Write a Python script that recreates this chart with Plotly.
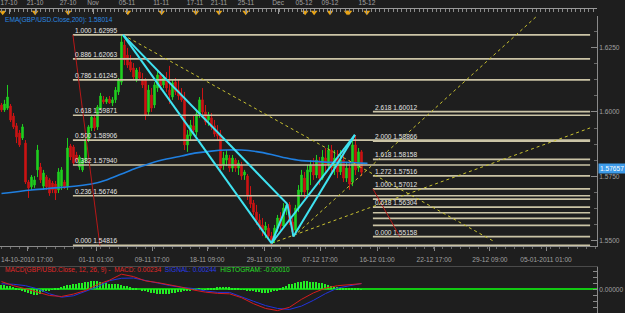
import plotly.graph_objects as go

# ---------------- DATA ----------------
bars = list(range(121))

opens = [
    1.6027, 1.6008, 1.6015, 1.6023, 1.5984, 1.5946, 1.5918, 1.5899, 1.5879, 1.5728,
    1.5709, 1.5716, 1.5775, 1.5786, 1.5712, 1.5747, 1.5736, 1.5724, 1.5720, 1.5697,
    1.5712, 1.5728, 1.5709, 1.5868, 1.5864, 1.5833, 1.5786, 1.5775, 1.5813, 1.5891,
    1.5938, 1.5977, 1.5942, 1.6015, 1.6047, 1.6039, 1.6050, 1.6035, 1.6047, 1.6078,
    1.6116, 1.6260, 1.6221, 1.6194, 1.6171, 1.6124, 1.6155, 1.6124, 1.6124, 1.6000,
    1.6066, 1.6027, 1.6093, 1.6144, 1.6105, 1.6124, 1.6085, 1.6058, 1.6116, 1.6085,
    1.6066, 1.6047, 1.5872, 1.5907, 1.5946, 1.5922, 1.5992, 1.6047, 1.6000, 1.5969,
    1.5977, 1.5946, 1.5918, 1.5911, 1.5794, 1.5813, 1.5821, 1.5782, 1.5813, 1.5782,
    1.5794, 1.5755, 1.5751, 1.5677, 1.5646, 1.5611, 1.5580, 1.5561, 1.5541, 1.5549,
    1.5518, 1.5503, 1.5549, 1.5588, 1.5557, 1.5627, 1.5639, 1.5573, 1.5541, 1.5627,
    1.5689, 1.5743, 1.5697, 1.5767, 1.5794, 1.5755, 1.5806, 1.5743, 1.5821, 1.5794,
    1.5852, 1.5782, 1.5821, 1.5767, 1.5813, 1.5743, 1.5782, 1.5728, 1.5872, 1.5782,
    1.5845]
highs = [
    1.6035, 1.6047, 1.6105, 1.6031, 1.5996, 1.5957, 1.5930, 1.5953, 1.5891, 1.5736,
    1.5755, 1.5751, 1.5872, 1.5802, 1.5775, 1.5755, 1.5743, 1.5732, 1.5732, 1.5782,
    1.5786, 1.5736, 1.5899, 1.5876, 1.5872, 1.5845, 1.5833, 1.5821, 1.5899, 1.5949,
    1.5988, 1.5988, 1.6027, 1.6074, 1.6062, 1.6058, 1.6062, 1.6058, 1.6097, 1.6132,
    1.62995, 1.6280, 1.6249, 1.6221, 1.6190, 1.6171, 1.6175, 1.6151, 1.6132, 1.6105,
    1.6093, 1.6116, 1.6163, 1.6155, 1.6144, 1.6155, 1.6179, 1.6124, 1.6132, 1.6124,
    1.6093, 1.6078, 1.5930, 1.5969, 1.5988, 1.6008, 1.6058, 1.6093, 1.6027, 1.6000,
    1.5996, 1.5969, 1.5949, 1.5930, 1.5845, 1.5852, 1.5833, 1.5833, 1.5821, 1.5813,
    1.5806, 1.5775, 1.5759, 1.5712, 1.5658, 1.5639, 1.5604, 1.5588, 1.5573, 1.5565,
    1.5534, 1.5561, 1.5600, 1.5611, 1.5646, 1.5646, 1.5650, 1.5588, 1.5639, 1.5716,
    1.5775, 1.5767, 1.5794, 1.5813, 1.5821, 1.5833, 1.5825, 1.5852, 1.5860, 1.5872,
    1.5872, 1.5852, 1.5852, 1.5852, 1.5860, 1.5806, 1.5813, 1.5891, 1.5911, 1.5860,
    1.5852]
lows = [
    1.6000, 1.6000, 1.6008, 1.5961, 1.5934, 1.5879, 1.5864, 1.5891, 1.5720, 1.5666,
    1.5697, 1.5705, 1.5747, 1.5724, 1.5697, 1.5697, 1.5674, 1.5685, 1.5658, 1.5685,
    1.5697, 1.5701, 1.5697, 1.5813, 1.5794, 1.5806, 1.5775, 1.5767, 1.5802, 1.5883,
    1.5926, 1.5926, 1.5930, 1.6008, 1.6031, 1.6031, 1.6031, 1.6023, 1.6035, 1.6066,
    1.6105, 1.6182, 1.6171, 1.6155, 1.6124, 1.6116, 1.6124, 1.6093, 1.5969, 1.5984,
    1.6000, 1.6015, 1.6078, 1.6085, 1.6093, 1.6078, 1.6031, 1.6047, 1.6066, 1.6047,
    1.6039, 1.5852, 1.5845, 1.5891, 1.5911, 1.5907, 1.5977, 1.5977, 1.5949, 1.5946,
    1.5930, 1.5903, 1.5891, 1.5767, 1.5775, 1.5790, 1.5767, 1.5767, 1.5767, 1.5755,
    1.5736, 1.5736, 1.5658, 1.5627, 1.5600, 1.5561, 1.5541, 1.5518, 1.5510, 1.5503,
    1.54816, 1.5491, 1.5534, 1.5541, 1.5549, 1.5600, 1.5561, 1.55158, 1.5526, 1.5611,
    1.5674, 1.5666, 1.5677, 1.5716, 1.5736, 1.5743, 1.5716, 1.5736, 1.5767, 1.5782,
    1.5767, 1.5755, 1.5743, 1.5755, 1.5728, 1.5728, 1.5697, 1.5712, 1.5755, 1.5767,
    1.5751]
closes = [
    1.6008, 1.6031, 1.6058, 1.5969, 1.5942, 1.5903, 1.5872, 1.5942, 1.5728, 1.5705,
    1.5747, 1.5736, 1.5852, 1.5736, 1.5763, 1.5709, 1.5685, 1.5697, 1.5685, 1.5767,
    1.5775, 1.5705, 1.5860, 1.5825, 1.5802, 1.5813, 1.5825, 1.5813, 1.5891, 1.5942,
    1.5980, 1.5938, 1.6019, 1.6062, 1.6039, 1.6050, 1.6035, 1.6047, 1.6085, 1.6124,
    1.6272, 1.6202, 1.6182, 1.6163, 1.6136, 1.6163, 1.6132, 1.6105, 1.5988, 1.6085,
    1.6015, 1.6105, 1.6144, 1.6101, 1.6132, 1.6093, 1.6066, 1.6113, 1.6078, 1.6062,
    1.6047, 1.5872, 1.5911, 1.5949, 1.5930, 1.5992, 1.6047, 1.6000, 1.5961, 1.5988,
    1.5942, 1.5914, 1.5907, 1.5782, 1.5821, 1.5833, 1.5782, 1.5821, 1.5782, 1.5802,
    1.5751, 1.5767, 1.5674, 1.5642, 1.5611, 1.5580, 1.5557, 1.5541, 1.5557, 1.5518,
    1.5503, 1.5549, 1.5588, 1.5557, 1.5627, 1.5639, 1.5573, 1.5534, 1.5627, 1.5697,
    1.5755, 1.5689, 1.5775, 1.5794, 1.5755, 1.5813, 1.5743, 1.5825, 1.5794, 1.5852,
    1.5782, 1.5821, 1.5767, 1.5813, 1.5743, 1.5782, 1.5720, 1.5872, 1.5775, 1.5845,
    1.57657]

ema_bars = [0, 10, 20, 30, 35, 40, 45, 50, 55, 60, 65, 70, 75, 80, 85, 90, 95, 100, 105, 110, 115, 120, 122]
ema_vals = [1.5683, 1.5697, 1.5707, 1.5720, 1.5736, 1.5759, 1.5782, 1.5802, 1.5817, 1.5829, 1.5841,
            1.5848, 1.5852, 1.5852, 1.5846, 1.5835, 1.5821, 1.5811, 1.5808, 1.5804, 1.5804, 1.58014, 1.5801]

# Fibonacci retracement (left) and extension (right)
left_fib_ratios = [1.000, 0.886, 0.786, 0.618, 0.500, 0.382, 0.236, 0.000]
left_fib_prices = [1.62995, 1.62063, 1.61245, 1.59871, 1.58906, 1.57940, 1.56746, 1.54816]
left_fib_anchor = [23.8, 32.8]
right_fib_ratios = [2.618, 2.000, 1.618, 1.272, 1.000, 0.786, 0.618, 0.500, 0.382, 0.236, 0.000]
right_fib_prices = [1.60012, 1.58866, 1.58158, 1.57516, 1.57012, 1.56615, 1.56304, 1.56085, 1.55866, 1.55596, 1.55158]
right_fib_labelled = [2.618, 2.000, 1.618, 1.272, 1.000, 0.618, 0.000]
right_fib_anchor = [123.8, 132.8]
fib_end = 196.2

# harmonic pattern points X, A, B, C, D
pat_names = ["X", "A", "B", "C", "D"]
pat_bars = [40.5, 90.0, 95.3, 97.3, 117.8]
pat_prices = [1.62995, 1.5490, 1.5642, 1.5516, 1.5911]
pat_legs = [("X", "A"), ("X", "B"), ("A", "B"), ("B", "C"), ("A", "D"), ("C", "D")]

# dotted trend lines (start bar, start price, end bar, end price)
trend_x0 = [40.5, 90.0, 97.3]
trend_p0 = [1.62995, 1.5490, 1.5516]
trend_x1 = [164.5, 196.2, 178.5]
trend_p1 = [1.5495, 1.5938, 1.6373]

# MACD panel
macd_bars = [0, 4, 8, 12, 16, 20, 24, 28, 32, 36, 40, 44, 48, 52, 56, 60, 64, 68, 72, 76,
             80, 84, 88, 92, 96, 100, 104, 108, 112, 116, 120]
macd_vals = [0.0032, 0.0015, 0.0002, -0.0012, -0.0026, -0.0030, -0.0020, -0.0005, 0.0020, 0.0038,
             0.0063, 0.0053, 0.0035, 0.0028, 0.0019, 0.0009, -0.0003, -0.0012, -0.0017, -0.0019,
             -0.0035, -0.0060, -0.0080, -0.0089, -0.0075, -0.0042, -0.0015, 0.0005, 0.0015, 0.0020,
             0.00234]
signal_vals = [0.0023, 0.0021, 0.0015, 0.0002, -0.0019, -0.0033, -0.0027, -0.0010, 0.0010, 0.0036,
               0.0046, 0.0047, 0.0036, 0.0025, 0.0016, 0.0008, 0.0003, -0.0007, -0.0013, -0.0013,
               -0.0030, -0.0050, -0.0068, -0.0080, -0.0084, -0.0070, -0.0046, -0.0018, 0.0005, 0.0016,
               0.00244]
hist_vals = [
    0.0018, 0.0017, 0.0015, 0.0013, 0.0010,
    0.0005, 0.0001,
    -0.0006, -0.0012, -0.0016, -0.0020, -0.0022, -0.0022, -0.0018, -0.0012,
    -0.0007, -0.0004, -0.0002, 0.0002, 0.0006,
    0.0010, 0.0013, 0.0016, 0.0018, 0.0020, 0.0022, 0.0025, 0.0028, 0.0030, 0.0032,
    0.0034, 0.0035, 0.0033, 0.0030, 0.0028,
    0.0025, 0.0024, 0.0022, 0.0020, 0.0020, 0.0018, 0.0015, 0.0012, 0.0008, 0.0005,
    0.0003, 0.0000,
    -0.0004, -0.0008, -0.0012, -0.0015, -0.0017, -0.0018, -0.0020, -0.0020, -0.0019,
    -0.0018, -0.0016, -0.0014, -0.0012, -0.0010, -0.0008, -0.0006, -0.0004, -0.0002,
    0.0001, 0.0002, 0.0001, -0.0001, 0.0002, 0.0004,
    0.0006, 0.0008, 0.0010, 0.0011, 0.0010, 0.0008, 0.0006,
    0.0004, 0.0002, 0.0001, -0.0002, -0.0004, -0.0006, -0.0008,
    -0.0010, -0.0012, -0.0014, -0.0015, -0.0014, -0.0012, -0.0008, -0.0004,
    0.0002, 0.0008, 0.0014, 0.0020, 0.0024, 0.0028, 0.0030,
    0.0032, 0.0033, 0.0033, 0.0032, 0.0031, 0.0030, 0.0028,
    0.0025, 0.0022, 0.0018, 0.0014, 0.0010,
    0.0008, 0.0007, 0.0006, 0.0005, 0.0005, 0.0004, 0.0003, 0.0002, -0.0001]

# axis labels
bottom_tick_pos = [8.5, 31.5, 50.2, 68.5, 87.5, 106.2, 125.2, 144.2, 162.8, 181.5]
bottom_tick_text = ["14-10-2010 17:00", "01-11 01:00", "09-11 17:00", "18-11 09:00", "29-11 01:00",
                    "07-12 17:00", "16-12 01:00", "22-12 17:00", "29-12 09:00", "05-01-2011 01:00"]
top_tick_pos = [2.5, 11.2, 22.2, 30.5, 41.8, 53.2, 64.5, 72.5, 81.5, 92.2, 100.8, 109.5, 121.8]
top_tick_text = ["17-10", "21-10", "27-10", "Nov", "05-11", "11-11", "17-11", "21-11", "25-11",
                 "Dec", "05-12", "09-12", "15-12"]
event_marker_pos = [0.4, 11.2, 22.2, 42.1, 53.4, 64.8, 72.5, 81.4, 101.2, 104.2, 109.5, 115.2, 115.8, 121.8]
price_ticks = [1.5500, 1.5750, 1.6000, 1.6250]
last_price = 1.57657
ema_last = 1.58014
macd_last, signal_last, hist_last = 0.00234, 0.00244, -0.00010

# ---------------- STYLE ----------------
BG = "#1e1e1e"
AX = "#8a8a8a"
TXT = "#a0a0a0"
FONT = "Liberation Sans"
FS = 6.6
FIB = "#cbc4a6"
CYAN = "#3fe3f2"
DOT = "#c9c230"
GREEN = "#1fcf1f"
RED = "#cc1414"
X_RANGE = [-0.5, 198.5]
XDOM = [0, 1]

fig = go.Figure()


def hlines(x0, x1, levels):
    xs, ys = [], []
    for p in levels:
        xs += [x0, x1, None]
        ys += [p, p, None]
    return xs, ys


lx, ly = hlines(left_fib_anchor[0], fib_end, left_fib_prices)
fig.add_trace(go.Scatter(x=lx, y=ly, mode="lines", line=dict(color=FIB, width=1.6), hoverinfo="skip"))
rx, ry = hlines(right_fib_anchor[0], fib_end, right_fib_prices)
fig.add_trace(go.Scatter(x=rx, y=ry, mode="lines", line=dict(color=FIB, width=1.6), hoverinfo="skip"))

fig.add_trace(go.Candlestick(
    x=bars, open=opens, high=highs, low=lows, close=closes,
    increasing=dict(line=dict(color=GREEN, width=1), fillcolor=GREEN),
    decreasing=dict(line=dict(color=RED, width=1), fillcolor=RED),
    whiskerwidth=0, hoverinfo="skip"))

fig.add_trace(go.Scatter(x=ema_bars, y=ema_vals, mode="lines",
                         line=dict(color="#1f7fe0", width=1.6, shape="spline"), hoverinfo="skip"))

# fib diagonals
fig.add_trace(go.Scatter(x=left_fib_anchor, y=[left_fib_prices[0], left_fib_prices[-1]], mode="lines",
                         line=dict(color="#b81818", width=1), hoverinfo="skip"))
fig.add_trace(go.Scatter(x=right_fib_anchor, y=[right_fib_prices[4], right_fib_prices[-1]], mode="lines",
                         line=dict(color="#b81818", width=1), hoverinfo="skip"))

# dotted trend lines
tx, ty = [], []
for a, b, c, d in zip(trend_x0, trend_p0, trend_x1, trend_p1):
    tx += [a, c, None]
    ty += [b, d, None]
fig.add_trace(go.Scatter(x=tx, y=ty, mode="lines", line=dict(color=DOT, width=1, dash="dot"), hoverinfo="skip"))

# harmonic pattern
idx = {n: i for i, n in enumerate(pat_names)}
px_, py_ = [], []
for s, e in pat_legs:
    px_ += [pat_bars[idx[s]], pat_bars[idx[e]], None]
    py_ += [pat_prices[idx[s]], pat_prices[idx[e]], None]
fig.add_trace(go.Scatter(x=px_, y=py_, mode="lines", line=dict(color=CYAN, width=2), hoverinfo="skip"))

# MACD panel
fig.add_trace(go.Bar(x=bars, y=hist_vals, xaxis="x2", yaxis="y2", width=0.65,
                     marker=dict(color="#24ee24", line=dict(width=0)), hoverinfo="skip"))
fig.add_trace(go.Scatter(x=macd_bars, y=signal_vals, xaxis="x2", yaxis="y2", mode="lines",
                         line=dict(color="#2233dd", width=1), hoverinfo="skip"))
fig.add_trace(go.Scatter(x=macd_bars, y=macd_vals, xaxis="x2", yaxis="y2", mode="lines",
                         line=dict(color="#d81c1c", width=1), hoverinfo="skip"))

# event markers on top ruler
fig.add_trace(go.Scatter(x=event_marker_pos, y=[0.35] * len(event_marker_pos), xaxis="x3", yaxis="y3",
                         mode="markers", marker=dict(symbol="triangle-down", size=6, color="#e8a416"),
                         cliponaxis=False, hoverinfo="skip"))

annotations = []
for r, p in zip(left_fib_ratios, left_fib_prices):
    annotations.append(dict(x=left_fib_anchor[0], y=p, xref="x", yref="y", text=f"{r:.3f} {p:.5f}",
                            showarrow=False, xanchor="left", yanchor="bottom", yshift=-1,
                            font=dict(family=FONT, size=FS, color="#e4e4e4")))
for r, p in zip(right_fib_ratios, right_fib_prices):
    if r in right_fib_labelled:
        annotations.append(dict(x=right_fib_anchor[0], y=p, xref="x", yref="y", text=f"{r:.3f} {p:.5f}",
                                showarrow=False, xanchor="left", yanchor="bottom", yshift=-1,
                                font=dict(family=FONT, size=FS, color="#e4e4e4")))
annotations.append(dict(x=0.005, y=(313 - 20) / 313, xref="paper", yref="paper",
                        text=f"EMA(GBP/USD.Close,200): {ema_last:.5f}", showarrow=False,
                        xanchor="left", yanchor="middle", font=dict(family=FONT, size=FS, color="#2a88e0")))
nb = "\u00a0"
macd_text = (f"<span style='color:#e02828'>MACD(GBP/USD.Close, 12, 26, 9) -{nb}{nb}MACD: {macd_last:.5f}</span>"
             f"{nb}{nb}<span style='color:#2a3ce8'>SIGNAL: {signal_last:.5f}</span>"
             f"{nb}{nb}<span style='color:#28e028'>HISTOGRAM: {hist_last:.5f}</span>")
annotations.append(dict(x=0.005, y=(313 - 270) / 313, xref="paper", yref="paper", text=macd_text,
                        showarrow=False, xanchor="left", yanchor="middle", font=dict(family=FONT, size=FS)))
annotations.append(dict(x=1.002, y=last_price, xref="paper", yref="y", text=f"{last_price:.5f}",
                        showarrow=False, xanchor="left", yanchor="middle", yshift=4, bgcolor="#3d9be9",
                        borderpad=1, font=dict(family=FONT, size=FS, color="#ffffff")))

fig.update_layout(
    width=625, height=313, autosize=False,
    margin=dict(l=0, r=28, t=0, b=0, autoexpand=False),
    paper_bgcolor=BG, plot_bgcolor=BG, showlegend=False, bargap=0,
    font=dict(family=FONT, size=FS, color=TXT),
    annotations=annotations,
    xaxis=dict(domain=XDOM, range=X_RANGE, anchor="y", showgrid=False, zeroline=False, automargin=False,
               rangeslider=dict(visible=False), tickmode="array", tickvals=bottom_tick_pos,
               ticktext=bottom_tick_text, ticks="outside", ticklen=4, tickcolor=AX,
               ticklabeloverflow="allow", ticklabelstandoff=3,
               showline=True, linecolor=AX, tickfont=dict(size=FS, color=TXT),
               minor=dict(ticks="outside", ticklen=2, tickcolor="#6a6a6a", tickmode="linear", tick0=0, dtick=3)),
    yaxis=dict(domain=[67 / 313, 297 / 313], range=[1.54793, 1.63728], anchor="x", side="right",
               automargin=False, ticklabeloverflow="allow",
               showgrid=False, zeroline=False, tickmode="array", tickvals=price_ticks,
               ticktext=[f"{v:.4f}" for v in price_ticks], ticks="inside", ticklen=6, tickcolor=AX,
               showline=True, linecolor=AX, tickfont=dict(size=FS, color=TXT),
               minor=dict(ticks="inside", ticklen=3, tickcolor="#6a6a6a", tickmode="linear",
                          tick0=1.55, dtick=0.00625)),
    xaxis2=dict(domain=XDOM, range=X_RANGE, anchor="y2", side="top", showgrid=False, zeroline=False,
                automargin=False, showticklabels=False, ticks="", showline=True, linecolor="#4a4a4a"),
    yaxis2=dict(domain=[0, 46 / 313], range=[-0.0099, 0.0093], anchor="x2", side="right",
                automargin=False, ticklabeloverflow="allow",
                showgrid=False, zeroline=True, zerolinecolor="#12c812", zerolinewidth=1.5,
                tickmode="array", tickvals=[-0.0075, -0.005, -0.0025, 0, 0.0025, 0.005, 0.0075],
                ticktext=["", "", "", "0.00000", "", "", ""], ticks="inside", ticklen=4, tickcolor=AX,
                showline=True, linecolor=AX, tickfont=dict(size=FS, color=TXT)),
    xaxis3=dict(domain=XDOM, range=X_RANGE, anchor="y3", side="top", showgrid=False, zeroline=False,
                automargin=False, ticklabeloverflow="allow",
                tickmode="array", tickvals=top_tick_pos, ticktext=top_tick_text, ticks="inside",
                ticklen=5, tickcolor="#9a9a9a", showline=True, linecolor="#9a9a9a",
                tickfont=dict(size=FS, color=TXT),
                minor=dict(ticks="inside", ticklen=3, tickcolor="#8a8a8a", tickmode="linear", tick0=0, dtick=1.45)),
    yaxis3=dict(domain=[299 / 313, 304 / 313], range=[0, 1], anchor="x3", visible=False),
)

fig.write_html("out.html")
